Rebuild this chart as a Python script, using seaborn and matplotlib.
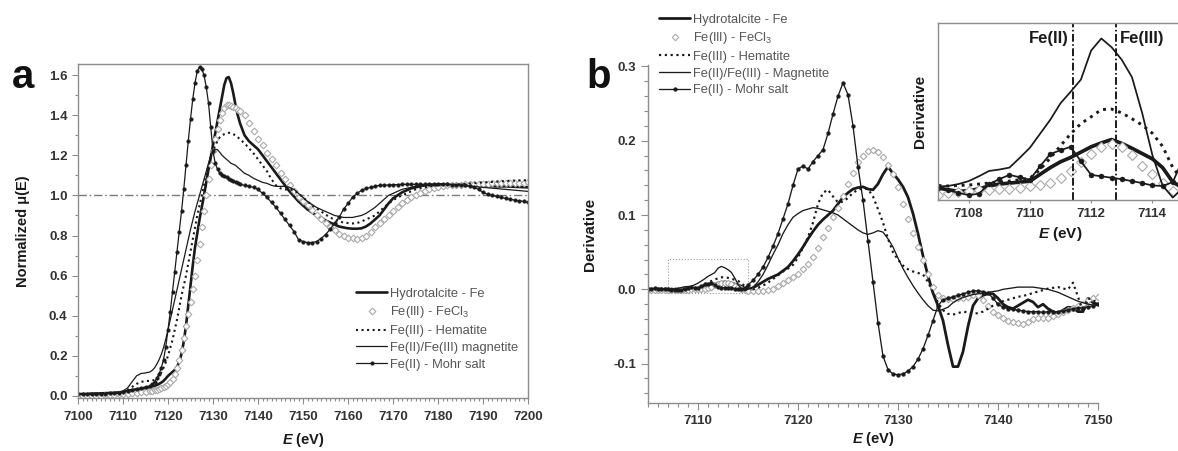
import numpy as np
import matplotlib
matplotlib.use("Agg")
import matplotlib.pyplot as plt
import seaborn as sns
from matplotlib.ticker import MultipleLocator, FormatStrFormatter
from matplotlib.patches import Rectangle
import matplotlib.transforms as mtransforms

# ---------------- data : panel a (normalized XANES) ----------------
E_A = np.concatenate([np.arange(7100, 7116), np.arange(7116, 7136, 0.5), np.arange(7136, 7201)])

HYDRO_A = [0.01, 0.01, 0.01, 0.012, 0.012, 0.013, 0.014, 0.015, 0.016, 0.018, 0.02, 0.025, 0.03, 0.033, 0.036, 0.04,
           0.045, 0.048, 0.05, 0.055, 0.06, 0.067, 0.075, 0.087, 0.1, 0.11,
           0.12, 0.13, 0.145, 0.17, 0.21, 0.27, 0.35, 0.45, 0.55, 0.65,
           0.74, 0.81, 0.88, 0.94, 1.0, 1.065, 1.13, 1.19, 1.25, 1.31,
           1.37, 1.43, 1.49, 1.55, 1.585, 1.59, 1.56, 1.51, 1.45, 1.4,
           1.36, 1.3, 1.27, 1.25,
           1.23, 1.2, 1.17, 1.14, 1.11, 1.08, 1.05, 1.02, 0.995, 0.97,
           0.95, 0.93, 0.915, 0.9, 0.89, 0.875, 0.865, 0.855, 0.845, 0.84,
           0.836, 0.834, 0.834, 0.836, 0.845, 0.86, 0.88, 0.9, 0.93, 0.96,
           0.985, 1.0, 1.015, 1.025, 1.035, 1.04, 1.045, 1.05, 1.052, 1.054,
           1.055, 1.055, 1.055, 1.055, 1.055, 1.055, 1.054, 1.053, 1.052, 1.05,
           1.048, 1.047, 1.046, 1.045, 1.045, 1.045, 1.044, 1.043, 1.042, 1.041, 1.04]

FECL3_A = [0.0, 0.0, 0.0, 0.0, 0.0, 0.002, 0.004, 0.005, 0.006, 0.008, 0.01, 0.012, 0.014, 0.016, 0.018, 0.02,
           0.023, 0.025, 0.028, 0.031, 0.035, 0.04, 0.045, 0.052, 0.06, 0.07,
           0.085, 0.108, 0.14, 0.18, 0.23, 0.29, 0.35, 0.41, 0.47, 0.535,
           0.6, 0.68, 0.76, 0.84, 0.92, 1.0, 1.08, 1.15, 1.22, 1.28,
           1.33, 1.375, 1.41, 1.435, 1.45, 1.452, 1.445, 1.44, 1.435, 1.428,
           1.42, 1.4, 1.36, 1.32,
           1.28, 1.25, 1.21, 1.18, 1.15, 1.11, 1.08, 1.05, 1.02, 0.99,
           0.97, 0.95, 0.925, 0.9, 0.88, 0.86, 0.84, 0.825, 0.81, 0.8,
           0.79, 0.786, 0.785, 0.79, 0.8, 0.82, 0.84, 0.86, 0.88, 0.9,
           0.92, 0.94, 0.96, 0.975, 0.99, 1.0, 1.01, 1.02, 1.03, 1.035,
           1.04, 1.045, 1.05, 1.05, 1.052, 1.054, 1.055, 1.056, 1.057, 1.058,
           1.058, 1.059, 1.06, 1.06, 1.061, 1.062, 1.062, 1.063, 1.063, 1.064, 1.065]

HEMATITE_A = [0.01, 0.01, 0.01, 0.011, 0.012, 0.012, 0.013, 0.014, 0.015, 0.017, 0.02, 0.03, 0.045, 0.06, 0.07, 0.075,
              0.075, 0.077, 0.08, 0.088, 0.1, 0.117, 0.14, 0.168, 0.2, 0.24,
              0.28, 0.33, 0.38, 0.44, 0.5, 0.55, 0.6, 0.66, 0.72, 0.78,
              0.84, 0.9, 0.95, 1.0, 1.05, 1.1, 1.15, 1.19, 1.22, 1.25,
              1.27, 1.29, 1.3, 1.305, 1.31, 1.312, 1.31, 1.305, 1.3, 1.29,
              1.28, 1.26, 1.235, 1.21,
              1.18, 1.15, 1.12, 1.08, 1.05, 1.035, 1.03, 1.03, 1.025, 1.01,
              0.99, 0.97, 0.95, 0.935, 0.92, 0.905, 0.89, 0.88, 0.87, 0.865,
              0.862, 0.86, 0.862, 0.87, 0.88, 0.89, 0.9, 0.92, 0.94, 0.96,
              0.975, 0.99, 1.0, 1.01, 1.02, 1.03, 1.035, 1.04, 1.045, 1.048,
              1.05, 1.051, 1.052, 1.053, 1.054, 1.055, 1.057, 1.059, 1.061, 1.063,
              1.065, 1.066, 1.067, 1.068, 1.07, 1.072, 1.073, 1.074, 1.075, 1.075, 1.076]

MAGNETITE_A = [0.01, 0.01, 0.01, 0.011, 0.012, 0.012, 0.013, 0.014, 0.015, 0.018, 0.025, 0.04, 0.07, 0.1, 0.112, 0.115,
               0.12, 0.128, 0.14, 0.158, 0.18, 0.207, 0.24, 0.283, 0.33, 0.38,
               0.43, 0.48, 0.53, 0.58, 0.63, 0.68, 0.73, 0.78, 0.83, 0.875,
               0.92, 0.96, 1.0, 1.04, 1.08, 1.12, 1.16, 1.195, 1.22, 1.23,
               1.228, 1.215, 1.2, 1.19, 1.18, 1.17, 1.16, 1.155, 1.15, 1.14,
               1.13, 1.11, 1.1, 1.085,
               1.075, 1.065, 1.06, 1.05, 1.045, 1.045, 1.045, 1.04, 1.03, 1.01,
               0.99, 0.97, 0.955, 0.94, 0.93, 0.92, 0.91, 0.9, 0.895, 0.89,
               0.89, 0.89, 0.895, 0.9, 0.91, 0.925, 0.94, 0.96, 0.98, 1.0,
               1.01, 1.02, 1.03, 1.035, 1.04, 1.045, 1.047, 1.05, 1.05, 1.052,
               1.053, 1.054, 1.055, 1.054, 1.053, 1.05, 1.048, 1.046, 1.044, 1.042,
               1.04, 1.038, 1.036, 1.034, 1.032, 1.03, 1.028, 1.026, 1.024, 1.022, 1.02]

MOHR_A = [0.01, 0.01, 0.01, 0.01, 0.01, 0.012, 0.012, 0.013, 0.014, 0.015, 0.02, 0.025, 0.03, 0.035, 0.04, 0.045,
          0.05, 0.058, 0.07, 0.088, 0.11, 0.14, 0.18, 0.245, 0.33, 0.42,
          0.52, 0.62, 0.72, 0.82, 0.92, 1.03, 1.15, 1.27, 1.38, 1.48,
          1.56, 1.62, 1.64, 1.63, 1.6, 1.54, 1.46, 1.34, 1.22, 1.16,
          1.13, 1.11, 1.1, 1.095, 1.09, 1.082, 1.075, 1.07, 1.065, 1.06,
          1.055, 1.05, 1.045, 1.04,
          1.03, 1.01, 0.99, 0.965, 0.94, 0.91, 0.88, 0.85, 0.82, 0.78,
          0.77, 0.765, 0.765, 0.77, 0.785, 0.805, 0.83, 0.86, 0.89, 0.93,
          0.96, 0.99, 1.01, 1.025, 1.035, 1.04, 1.045, 1.05, 1.05, 1.052,
          1.053, 1.054, 1.055, 1.055, 1.055, 1.055, 1.055, 1.055, 1.055, 1.055,
          1.055, 1.055, 1.055, 1.053, 1.052, 1.05, 1.05, 1.045, 1.04, 1.03,
          1.015, 1.005, 1.0, 0.995, 0.99, 0.985, 0.98, 0.977, 0.973, 0.97, 0.965]

# ---------------- data : panel b (first derivative) ----------------
E_B = np.concatenate([np.linspace(7105, 7115, 31), np.arange(7115.5, 7150.25, 0.5)])

HYDRO_B = [0.0003, 0.0, 0.0004, 0.0002, 0.0003, 0.0001, 0.0, -0.0004, -0.0007, -0.0006, -0.0002, 0.0004, 0.0008,
           0.001, 0.0012, 0.0014, 0.0028, 0.0042, 0.0054, 0.0063, 0.0074, 0.0085, 0.0093, 0.01, 0.0092, 0.0082,
           0.0071, 0.006, 0.0042, 0.0012, 0.0,
           0.002, 0.006, 0.01, 0.014, 0.017, 0.02, 0.025, 0.03, 0.038, 0.047,
           0.057, 0.068, 0.078, 0.087, 0.094, 0.1, 0.106, 0.115, 0.124, 0.13,
           0.135, 0.137, 0.138, 0.135, 0.134, 0.142, 0.155, 0.165, 0.156, 0.148,
           0.138, 0.124, 0.102, 0.075, 0.045, 0.018, -0.005, -0.022, -0.042, -0.075,
           -0.104, -0.104, -0.084, -0.05, -0.022, -0.012, -0.008, -0.006, -0.006, -0.012,
           -0.02, -0.024, -0.026, -0.022, -0.018, -0.014, -0.017, -0.024, -0.02, -0.026,
           -0.03, -0.032, -0.028, -0.024, -0.025, -0.03, -0.03, -0.012, -0.018, -0.02]

FECL3_B = [-0.0005, -0.0008, -0.0006, -0.001, -0.0008, -0.0012, -0.0014, -0.0011, -0.0009, -0.0007, -0.0005,
           -0.0004, -0.0003, -0.0002, 0.0, 0.0003, 0.0007, 0.0011, 0.002, 0.0036, 0.0054, 0.007, 0.0085, 0.009,
           0.0084, 0.0068, 0.0046, 0.0028, 0.001, -0.0007, -0.002,
           -0.002, -0.002, -0.002, -0.001, 0.001, 0.004, 0.008, 0.012, 0.016, 0.021,
           0.027, 0.034, 0.044, 0.056, 0.07, 0.083, 0.097, 0.11, 0.126, 0.142,
           0.157, 0.171, 0.18, 0.186, 0.188, 0.185, 0.178, 0.168, 0.155, 0.138,
           0.115, 0.095, 0.076, 0.057, 0.039, 0.02, 0.003, -0.008, -0.012, -0.013,
           -0.013, -0.012, -0.011, -0.01, -0.008, -0.008, -0.014, -0.022, -0.03, -0.035,
           -0.039, -0.042, -0.044, -0.045, -0.046, -0.044, -0.04, -0.038, -0.038, -0.038,
           -0.036, -0.033, -0.03, -0.028, -0.025, -0.022, -0.02, -0.015, -0.012, -0.01]

HEMATITE_B = [0.0005, 0.0006, 0.0004, 0.0005, 0.0006, 0.0005, 0.0005, 0.0004, 0.0005, 0.0006, 0.0008, 0.001,
              0.0012, 0.0014, 0.0017, 0.002, 0.0038, 0.0062, 0.0087, 0.0112, 0.0133, 0.0147, 0.0162, 0.0163,
              0.0155, 0.0143, 0.013, 0.0113, 0.0086, 0.0042, 0.0015,
              0.0, 0.002, 0.005, 0.009, 0.014, 0.019, 0.024, 0.028, 0.033, 0.043,
              0.056, 0.07, 0.09, 0.115, 0.13, 0.134, 0.125, 0.117, 0.118, 0.123,
              0.13, 0.134, 0.136, 0.135, 0.125, 0.108, 0.09, 0.068, 0.05, 0.04,
              0.032, 0.027, 0.024, 0.022, 0.02, 0.01, -0.004, -0.018, -0.028, -0.033,
              -0.034, -0.032, -0.03, -0.031, -0.033, -0.032, -0.03, -0.026, -0.022, -0.019,
              -0.016, -0.014, -0.012, -0.01, -0.009, -0.007, -0.005, -0.003, -0.001, 0.001,
              0.002, 0.003, 0.001, 0.0, 0.009, -0.01, -0.03, -0.012, -0.015, -0.018]

MAGNETITE_B = [0.0005, 0.0003, 0.0004, 0.0003, 0.0002, 0.0003, 0.0003, 0.0004, 0.0008, 0.0014, 0.0024, 0.0035,
               0.0038, 0.0042, 0.0062, 0.0083, 0.0112, 0.0141, 0.0175, 0.0199, 0.0224, 0.0284, 0.0309, 0.0291,
               0.0265, 0.0229, 0.0155, 0.0068, 0.0005, -0.002, 0.0,
               0.003, 0.01, 0.02, 0.033, 0.047, 0.06, 0.075, 0.087, 0.097, 0.102,
               0.106, 0.108, 0.11, 0.109, 0.107, 0.105, 0.103, 0.1, 0.095, 0.09,
               0.085, 0.08, 0.076, 0.074, 0.076, 0.079, 0.077, 0.068, 0.057, 0.042,
               0.028, 0.016, 0.005, -0.005, -0.014, -0.022, -0.028, -0.029, -0.027, -0.024,
               -0.018, -0.014, -0.011, -0.009, -0.007, -0.006, -0.005, -0.004, -0.003, -0.002,
               0.0, 0.001, 0.002, 0.003, 0.003, 0.003, 0.003, 0.002, 0.001, 0.0,
               -0.002, -0.004, -0.007, -0.01, -0.013, -0.016, -0.018, -0.02, -0.021, -0.022]

MOHR_B = [0.001, 0.0, 0.0015, 0.0005, 0.001, 0.0, 0.0, -0.0005, -0.001, -0.0015, -0.0012, 0.0008, 0.0018,
          0.0027, 0.0022, 0.0017, 0.0045, 0.007, 0.0078, 0.0085, 0.0055, 0.0027, 0.0024, 0.0021, 0.0018, 0.0014,
          0.001, 0.0005, 0.0004, 0.0012, 0.006,
          0.012, 0.02, 0.03, 0.043, 0.058, 0.075, 0.095, 0.115, 0.14, 0.162,
          0.166, 0.162, 0.172, 0.18, 0.188, 0.21, 0.236, 0.26, 0.278, 0.262,
          0.22, 0.165, 0.12, 0.065, 0.01, -0.045, -0.09, -0.108, -0.114, -0.115,
          -0.114, -0.11, -0.104, -0.094, -0.08, -0.062, -0.042, -0.022, -0.014, -0.012,
          -0.01, -0.008, -0.006, -0.004, -0.002, -0.002, -0.003, -0.005, -0.012, -0.02,
          -0.024, -0.026, -0.027, -0.028, -0.029, -0.03, -0.03, -0.03, -0.031, -0.03,
          -0.03, -0.03, -0.029, -0.028, -0.026, -0.025, -0.025, -0.024, -0.022, -0.02]

LABELS_A = ["Hydrotalcite - Fe", "Fe(III) - FeCl$_3$", "Fe(III) - Hematite",
            "Fe(II)/Fe(III) magnetite", "Fe(II) - Mohr salt"]
LABELS_B = ["Hydrotalcite - Fe", "Fe(III) - FeCl$_3$", "Fe(III) - Hematite",
            "Fe(II)/Fe(III) - Magnetite", "Fe(II) - Mohr salt"]

INSET_XLIM = (7107, 7115)
INSET_YLIM = (-0.0025, 0.0341)
BOX_YLIM = (-0.005, 0.041)
FE2_EDGE = 7111.4
FE3_EDGE = 7112.8

# ---------------- style ----------------
sns.set_theme(style="ticks")
plt.rcParams["font.family"] = ["Liberation Sans", "DejaVu Sans"]
plt.rcParams["font.weight"] = "bold"
plt.rcParams["mathtext.fontset"] = "custom"
plt.rcParams["mathtext.rm"] = "Liberation Sans"
plt.rcParams["mathtext.it"] = "Liberation Sans:italic:bold"
plt.rcParams["mathtext.bf"] = "Liberation Sans:bold"
plt.rcParams["mathtext.default"] = "regular"
plt.rcParams["axes.unicode_minus"] = False

INK = "#1a1a1a"
GRAY = "#a9a9a9"
SPINE = "#8c8c8c"
TICKLBL = "#333333"


def styles(scale=1.0, dsize=3.6):
    return [
        dict(color=INK, lw=1.9 * scale, linestyle="-"),
        dict(color=GRAY, linestyle="none", marker="D", markersize=dsize,
             markerfacecolor="white", markeredgecolor=GRAY, markeredgewidth=0.8),
        dict(color=INK, lw=1.5 * scale, linestyle=":"),
        dict(color=INK, lw=0.9 * scale, linestyle="-"),
        dict(color=INK, lw=0.9 * scale, linestyle="-", marker="o", markersize=2.6 * scale,
             markerfacecolor=INK, markeredgecolor=INK, markeredgewidth=0.3),
    ]


def draw(ax, E, series, labels, scale=1.0, dsize=3.6):
    for y, st, lab in zip(series, styles(scale, dsize), labels):
        sns.lineplot(x=E, y=np.asarray(y), ax=ax, estimator=None, sort=False,
                     legend=False, label=lab, **st)


def style_axis(ax, spines, ticklen=4):
    for side, sp in ax.spines.items():
        sp.set_visible(side in spines)
        sp.set_color(SPINE)
        sp.set_linewidth(1.0)
    ax.tick_params(axis="both", which="both", direction="out", color=SPINE,
                   labelcolor=TICKLBL, labelsize=9.5, top=False, right=False, width=0.8)
    ax.tick_params(which="major", length=ticklen)
    ax.tick_params(which="minor", length=ticklen * 0.6)


LEG_KW = dict(frameon=False, prop={"size": 9.3, "weight": "normal"}, labelcolor="#555555",
              handlelength=2.4, handletextpad=0.2, labelspacing=0.36, borderpad=0, borderaxespad=0)

fig = plt.figure(figsize=(11.78, 4.51), dpi=100)
fig.patch.set_facecolor("white")

# ---------------- panel a ----------------
ax_a = fig.add_axes([78 / 1178, 1 - 398 / 451, 450 / 1178, 334 / 451])
ax_a.axhline(1.0, color="#7a7a7a", lw=1.0, linestyle=(0, (6, 2, 1.2, 2)), zorder=1)
draw(ax_a, E_A, [HYDRO_A, FECL3_A, HEMATITE_A, MAGNETITE_A, MOHR_A], LABELS_A, dsize=3.4)
ax_a.set_xlim(7100, 7200)
ax_a.set_ylim(-0.01, 1.655)
ax_a.xaxis.set_major_locator(MultipleLocator(10))
ax_a.xaxis.set_minor_locator(MultipleLocator(1))
ax_a.yaxis.set_major_locator(MultipleLocator(0.2))
ax_a.yaxis.set_minor_locator(MultipleLocator(0.1))
ax_a.yaxis.set_major_formatter(FormatStrFormatter("%.1f"))
style_axis(ax_a, {"left", "bottom", "top", "right"}, ticklen=4)
ax_a.tick_params(axis="x", which="major", pad=5)
ax_a.set_xlabel(r"$\mathit{E}$ (eV)", fontsize=10.5, fontweight="bold", color=INK, labelpad=6)
ax_a.set_ylabel("Normalized μ(E)", fontsize=10.5, fontweight="bold", color=INK, labelpad=14)
ax_a.legend(loc="upper left", bbox_to_anchor=(0.618, 0.33), **LEG_KW)

# ---------------- panel b ----------------
ax_b = fig.add_axes([648 / 1178, 1 - 403 / 451, 450 / 1178, 338 / 451])
draw(ax_b, E_B, [HYDRO_B, FECL3_B, HEMATITE_B, MAGNETITE_B, MOHR_B], LABELS_B, scale=1.05, dsize=3.3)
ax_b.add_patch(Rectangle((INSET_XLIM[0], BOX_YLIM[0]), INSET_XLIM[1] - INSET_XLIM[0],
                         BOX_YLIM[1] - BOX_YLIM[0], fill=False, ec="#9a9a9a", lw=0.8,
                         linestyle=":", zorder=0.5))
ax_b.set_xlim(7105, 7150)
ax_b.set_ylim(-0.153, 0.302)
ax_b.xaxis.set_major_locator(MultipleLocator(10))
ax_b.xaxis.set_minor_locator(MultipleLocator(1))
ax_b.yaxis.set_major_locator(MultipleLocator(0.1))
ax_b.yaxis.set_minor_locator(MultipleLocator(0.02))
ax_b.yaxis.set_major_formatter(FormatStrFormatter("%.1f"))
style_axis(ax_b, {"left", "bottom"}, ticklen=5)
ax_b.tick_params(axis="x", which="major", pad=4)
ax_b.set_xlabel(r"$\mathit{E}$ (eV)", fontsize=10.5, fontweight="bold", color=INK, labelpad=2)
ax_b.set_ylabel("Derivative", fontsize=11, fontweight="bold", color=INK, labelpad=12)
ax_b.legend(loc="upper left", bbox_to_anchor=(0.025, 1.152), **LEG_KW)

# ---------------- inset ----------------
ax_in = fig.add_axes([938 / 1178, 1 - 200 / 451, 245 / 1178, 177 / 451])
ax_in.set_facecolor("white")
draw(ax_in, E_B, [HYDRO_B, FECL3_B, HEMATITE_B, MAGNETITE_B, MOHR_B], [None] * 5, scale=1.4, dsize=4.6)
for xv in (FE2_EDGE, FE3_EDGE):
    ax_in.axvline(xv, color=INK, lw=1.4, linestyle=(0, (4, 1.3, 0.8, 1.3)))
trans = mtransforms.blended_transform_factory(ax_in.transData, ax_in.transAxes)
ax_in.text(FE2_EDGE - 0.12, 0.91, "Fe(II)", transform=trans, ha="right", va="center",
           fontsize=12, fontweight="bold", color=INK)
ax_in.text(FE3_EDGE + 0.15, 0.91, "Fe(III)", transform=trans, ha="left", va="center",
           fontsize=12, fontweight="bold", color=INK)
ax_in.set_xlim(*INSET_XLIM)
ax_in.set_ylim(*INSET_YLIM)
ax_in.xaxis.set_major_locator(MultipleLocator(2))
ax_in.set_yticks([])
style_axis(ax_in, {"left", "bottom", "top", "right"}, ticklen=2.5)
ax_in.tick_params(axis="x", which="major", pad=3)
ax_in.set_xlabel(r"$\mathit{E}$ (eV)", fontsize=11, fontweight="bold", color=INK, labelpad=4)
ax_in.set_ylabel("Derivative", fontsize=11, fontweight="bold", color=INK, labelpad=8)

# ---------------- panel letters ----------------
fig.text(12 / 1178, 1 - 88 / 451, "a", fontsize=29, fontweight="bold", color="#111111", va="baseline")
fig.text(586 / 1178, 1 - 88 / 451, "b", fontsize=29, fontweight="bold", color="#111111", va="baseline")

fig.savefig("out.png", dpi=100, facecolor="white")
